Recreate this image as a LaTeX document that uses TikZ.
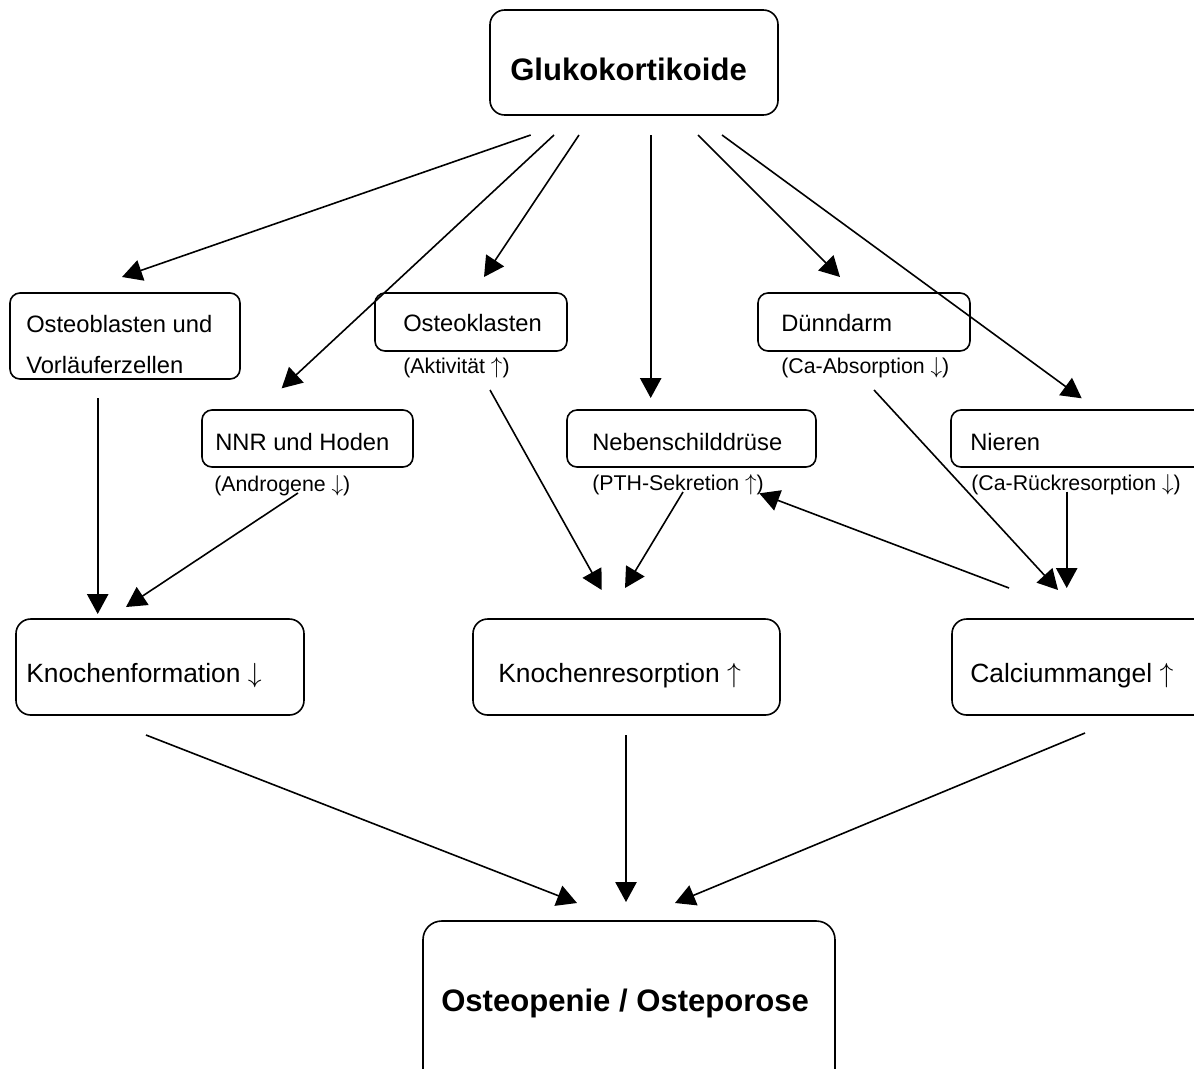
\documentclass[tikz,border=0pt]{standalone}
\usepackage{fontspec}
\setmainfont{Liberation Sans}
\usetikzlibrary{arrows.meta,fit}
\newcommand{\upar}{$\uparrow$}
\newcommand{\dnar}{$\downarrow$}
\begin{document}
\begin{tikzpicture}[x=0.75pt,y=-0.75pt,
  box/.style={draw, line width=1.2pt, rounded corners=7.5pt, inner sep=0pt},
  bigbox/.style={box, rounded corners=11pt},
  txt/.style={anchor=base west, inner sep=0pt, font=\fontsize{17.8pt}{20pt}\selectfont},
  low/.style={anchor=base west, inner sep=0pt, font=\fontsize{19.8pt}{22pt}\selectfont},
  lab/.style={anchor=base west, inner sep=0pt, font=\fontsize{16pt}{18pt}\selectfont},
  ttl/.style={anchor=base west, inner sep=0pt, font=\fontsize{23.3pt}{26pt}\selectfont\bfseries},
  arr/.style={line width=1.2pt, -{Triangle[length=15pt,width=16pt]}}
]
\useasboundingbox (0,0) rectangle (1194,1068);
\clip (0,0) rectangle (1194,1068);
\fill[white] (0,0) rectangle (1194,1068);

% boxes
\node[bigbox, fit={(490,10)(778,115)}] (gk) {};
\node[box, fit={(10,293)(240,379)}] (ob) {};
\node[box, fit={(202,410)(413,467)}] (nnr) {};
\node[box, fit={(375,293)(567,351)}] (ok) {};
\node[box, fit={(567,410)(816,467)}] (ns) {};
\node[box, fit={(758,293)(970,351)}] (dd) {};
\node[box, fit={(951,410)(1215,467)}] (ni) {};
\node[bigbox, fit={(16,619)(304,715)}] (kf) {};
\node[bigbox, fit={(473,619)(780,715)}] (kr) {};
\node[bigbox, fit={(952,619)(1215,715)}] (cm) {};
\node[bigbox, rounded corners=14pt, fit={(423,921)(835,1095)}] (op) {};

% texts
\node[ttl] (gkt) at (510,80) {Glukokortikoide};
\node[txt] (obt1) at (26,332) {Osteoblasten und};
\node[txt] (obt2) at (26,373) {Vorläuferzellen};
\node[txt] (nnrt) at (215,450) {NNR und Hoden};
\node[lab] (nnrl) at (214,491) {(Androgene \dnar)};
\node[txt] (okt) at (403,331) {Osteoklasten};
\node[lab] (okl) at (403,373) {(Aktivität \upar)};
\node[txt] (nst) at (592,450) {Nebenschilddrüse};
\node[lab] (nsl) at (592,490) {(PTH-Sekretion \upar)};
\node[txt] (ddt) at (781,331) {Dünndarm};
\node[lab] (ddl) at (781,373) {(Ca-Absorption \dnar)};
\node[txt] (nit) at (970,450) {Nieren};
\node[lab] (nil) at (971,490) {(Ca-Rückresorption \dnar)};
\node[low] (kft) at (26,682) {Knochenformation \dnar};
\node[low] (krt) at (498,682) {Knochenresorption \upar};
\node[low] (cmt) at (970,682) {Calciummangel \upar};
\node[ttl] (opt) at (441,1011) {Osteopenie / Osteporose};

% connector ends
\coordinate (s1) at (530.7,135); \coordinate (e1) at (122,277);
\coordinate (s2) at (554,135);   \coordinate (e2) at (281.7,388.3);
\coordinate (s3) at (579,135);   \coordinate (e3) at (484,277);
\coordinate (s4) at (650.7,135); \coordinate (e4) at (650.7,398);
\coordinate (s5) at (698,135);   \coordinate (e5) at (840,277);
\coordinate (s6) at (722,135);   \coordinate (e6) at (1081.7,398.3);
\coordinate (s7) at (97.7,398);  \coordinate (e7) at (97.7,614);
\coordinate (s8) at (298,493);   \coordinate (e8) at (126,607);
\coordinate (s9) at (490,390);   \coordinate (e9) at (601.7,590);
\coordinate (s10) at (683,492);  \coordinate (e10) at (625,588);
\coordinate (s11) at (1009,588); \coordinate (e11) at (759.3,493.3);
\coordinate (s12) at (874,390);  \coordinate (e12) at (1058,590);
\coordinate (s13) at (1066.7,491.7); \coordinate (e13) at (1066.7,588);
\coordinate (s14) at (146,735);  \coordinate (e14) at (577,903);
\coordinate (s15) at (626,735);  \coordinate (e15) at (626,902);
\coordinate (s16) at (1085,733); \coordinate (e16) at (675,903);

\foreach \i in {1,...,16} {\draw[arr] (s\i) -- (e\i);}
\end{tikzpicture}
\end{document}
